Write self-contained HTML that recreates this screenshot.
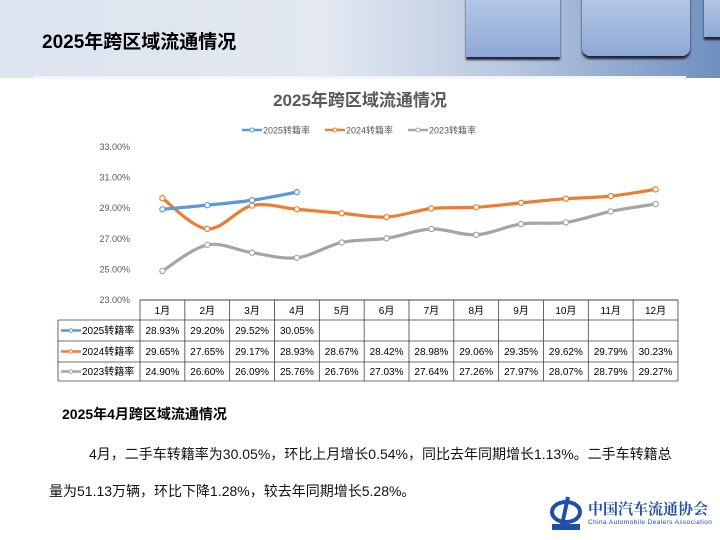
<!DOCTYPE html>
<html><head><meta charset="utf-8">
<style>
html,body{margin:0;padding:0;}
body{width:720px;height:540px;position:relative;overflow:hidden;background:#fff;font-family:"Liberation Sans","Noto Sans CJK SC",sans-serif;}
#hdr{position:absolute;left:0;top:0;width:720px;height:78px;background:linear-gradient(90deg,#dde4ef 0%,#e3e8f1 45%,#b9c9e0 70%,#6f8fc0 100%);}
.box{position:absolute;background:linear-gradient(180deg,#b6c8e6,#8ea9d6);box-shadow:0 3px 2px #223;}
#title{position:absolute;left:42px;top:27px;font-size:19px;font-weight:bold;color:#000;}
#strip{position:absolute;left:34px;top:76px;width:652px;height:3px;background:#f3f5f9;}
#sub{position:absolute;left:62px;top:404px;font-size:14px;font-weight:bold;}
.para{position:absolute;font-size:14px;color:#111;}
</style></head>
<body>
<div id="hdr">
 <div class="box" style="left:466px;top:-4px;width:94px;height:61px;"></div>
 <div class="box" style="left:582px;top:-4px;width:108px;height:60px;border-radius:0 0 8px 8px;"></div>
 <div class="box" style="left:704px;top:-4px;width:20px;height:41px;"></div>
</div>
<div id="title">2025年跨区域流通情况</div>
<div id="strip"></div>
<svg id="chart" width="720" height="540" style="position:absolute;left:0;top:0"></svg>
<div id="sub">2025年4月跨区域流通情况</div>
<div class="para" style="left:89px;top:444px;">4月，二手车转籍率为30.05%，环比上月增长0.54%，同比去年同期增长1.13%。二手车转籍总</div>
<div class="para" style="left:49px;top:481px;">量为51.13万辆，环比下降1.28%，较去年同期增长5.28%。</div>
<div style="position:absolute;left:550px;top:495px;width:170px;height:40px;">
 <svg width="34" height="36" style="position:absolute;left:0;top:0"><ellipse cx="16" cy="17" rx="14" ry="10" fill="none" stroke="#1f4fa8" stroke-width="4"/><path d="M18 2 L12 30" stroke="#1f4fa8" stroke-width="4"/><rect x="2" y="29" width="28" height="6" fill="#1f4fa8"/></svg>
 <div style="position:absolute;left:38px;top:3px;font-size:15px;font-family:'Noto Serif CJK SC',serif;color:#1f4fa8;white-space:nowrap;font-weight:bold">中国汽车流通协会</div>
 <div style="position:absolute;left:38px;top:24px;font-size:6.5px;letter-spacing:0.4px;color:#1f4fa8;white-space:nowrap">China Automobile Dealers Association</div>
</div>
<script>
const months=["1月","2月","3月","4月","5月","6月","7月","8月","9月","10月","11月","12月"];
const s2025=[28.93,29.20,29.52,30.05];
const s2024=[29.65,27.65,29.17,28.93,28.67,28.42,28.98,29.06,29.35,29.62,29.79,30.23];
const s2023=[24.90,26.60,26.09,25.76,26.76,27.03,27.64,27.26,27.97,28.07,28.79,29.27];
const yTicks=[23,25,27,29,31,33];
const seriesNames=["2025转籍率","2024转籍率","2023转籍率"];
const colors=["#5b9bd5","#ed7d31","#a5a5a5"];

const svg=document.getElementById('chart');
const NS="http://www.w3.org/2000/svg";
const X0=140,COLW=44.83,Y23=300,Y33=147;
const xS=i=>X0+COLW*(i+0.5);
const yS=v=>Y23-(v-23)*(Y23-Y33)/10;
function mk(t,a,p){const e=document.createElementNS(NS,t);for(const k in a)e.setAttribute(k,a[k]);(p||svg).appendChild(e);return e;}
function txt(x,y,s,size,col,anchor,w){const e=mk('text',{x:x,y:y,'font-size':size,fill:col,'text-anchor':anchor||'start','font-family':'Liberation Sans, Noto Sans CJK SC, sans-serif'});if(w)e.setAttribute('font-weight',w);e.textContent=s;return e;}

const t=txt(360,106,"2025年跨区域流通情况",17,"#595959","middle","bold");



const legX=[242,325,408];
seriesNames.forEach((n,i)=>{
 const g=mk('g',{});
 
 
 mk('line',{x1:legX[i],y1:130,x2:legX[i]+20,y2:130,stroke:colors[i],'stroke-width':2.5},g);
 mk('circle',{cx:legX[i]+10,cy:130,r:2,fill:'#fff',stroke:colors[i]},g);
 txt(legX[i]+21,133.5,n,9,"#595959","start");
 g.appendChild(svg.lastChild);
});

yTicks.forEach(v=>{
 const e=txt(130,yS(v)+3,v.toFixed(2)+"%",9,"#595959","end");
 
 
});

function smooth(pts){
 let d="M"+pts[0][0]+","+pts[0][1];
 for(let i=0;i<pts.length-1;i++){
  const p0=pts[i-1]||pts[i],p1=pts[i],p2=pts[i+1],p3=pts[i+2]||p2;
  const k=1/6;
  d+=" C"+(p1[0]+(p2[0]-p0[0])*k)+","+(p1[1]+(p2[1]-p0[1])*k)+" "+(p2[0]-(p3[0]-p1[0])*k)+","+(p2[1]-(p3[1]-p1[1])*k)+" "+p2[0]+","+p2[1];
 }
 return d;
}
const allS=[s2023,s2024,s2025];const allC=[colors[2],colors[1],colors[0]];const allN=["series-2023","series-2024","series-2025"];
allS.forEach((s,si)=>{
 const pts=s.map((v,i)=>[xS(i),yS(v)]);
 const p=mk('path',{d:smooth(pts),fill:'none',stroke:allC[si],'stroke-width':3.2,'stroke-linecap':'round'});
 
 
 pts.forEach(q=>{
  const c=mk('circle',{cx:q[0],cy:q[1],r:2.6,fill:'#fff',stroke:allC[si],'stroke-width':1.2});
  
  
 });
});

const R=[300,320,341,362,381];
const tg=mk('g',{});


const XR=X0+COLW*12;
mk('line',{x1:X0,y1:R[0],x2:XR,y2:R[0],stroke:'#404040','stroke-width':1},tg);
for(let r=1;r<R.length;r++) mk('line',{x1:58,y1:R[r],x2:XR,y2:R[r],stroke:'#404040','stroke-width':0.8},tg);
mk('line',{x1:58,y1:R[1],x2:58,y2:R[4],stroke:'#404040','stroke-width':0.8},tg);
for(let c=0;c<=12;c++) mk('line',{x1:X0+COLW*c,y1:R[0],x2:X0+COLW*c,y2:R[4],stroke:'#404040','stroke-width':0.8},tg);
months.forEach((m,i)=>{tg.appendChild(txt(xS(i),314,m,10,"#000","middle"));});
const rows=[s2025,s2024,s2023];
rows.forEach((s,ri)=>{
 const yy=(R[ri+1]+R[ri+2])/2+3.5;
 mk('line',{x1:61,y1:yy-3.5,x2:81,y2:yy-3.5,stroke:colors[ri],'stroke-width':2.5},tg);
 mk('circle',{cx:71,cy:yy-3.5,r:1.8,fill:'#fff',stroke:colors[ri]},tg);
 tg.appendChild(txt(82,yy,seriesNames[ri],10,"#000","start"));
 s.forEach((v,i)=>tg.appendChild(txt(xS(i),yy,v.toFixed(2)+"%",10,"#000","middle")));
});
</script>
</body></html>
